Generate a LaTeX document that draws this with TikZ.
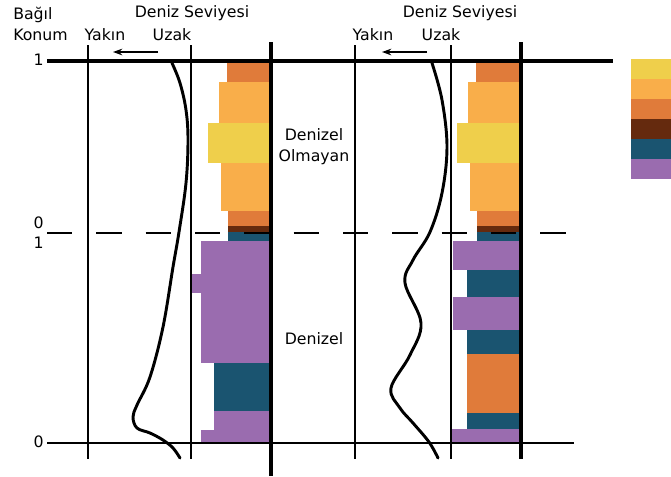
\documentclass[tikz,border=0pt]{standalone}
\usepackage{fontspec}
\usetikzlibrary{arrows.meta}
\setmainfont{DejaVu Sans}
\begin{document}
\begin{tikzpicture}[x=0.75pt,y=-0.75pt,
  lbl/.style={inner sep=0pt,anchor=base,font=\fontsize{11.8}{14}\selectfont},
  thinline/.style={line width=1pt},
  thickline/.style={line width=2.3pt},
  curve/.style={line width=2.2pt,line cap=round},
  arr/.style={line width=1.1pt,-{Stealth[length=7pt,width=5pt]}}]
\definecolor{cyel}{HTML}{EFCF4B}
\definecolor{clor}{HTML}{F9AE4A}
\definecolor{cdor}{HTML}{E07B3A}
\definecolor{cbr}{HTML}{652A0E}
\definecolor{cte}{HTML}{1A5470}
\definecolor{cpu}{HTML}{9A6CAF}
\useasboundingbox (0,0) rectangle (671,476);
% ---- left column bars
\fill[cdor] (227,62) rectangle (271,82);
\fill[clor] (219,82) rectangle (271,123);
\fill[cyel] (208,123) rectangle (271,163);
\fill[clor] (221,163) rectangle (271,211);
\fill[cdor] (228,211) rectangle (271,226);
\fill[cbr] (228,226) rectangle (271,232);
\fill[cte] (228,232) rectangle (271,241);
\fill[cpu] (201,241) rectangle (271,363);
\fill[cpu] (191,274) rectangle (201,293);
\fill[cte] (214,363) rectangle (271,411);
\fill[cpu] (214,411) rectangle (271,430);
\fill[cpu] (201,430) rectangle (271,443);
% ---- right column bars
\fill[cdor] (476,62) rectangle (521,82);
\fill[clor] (468,82) rectangle (521,123);
\fill[cyel] (457,123) rectangle (521,163);
\fill[clor] (470,163) rectangle (521,211);
\fill[cdor] (477,211) rectangle (521,226);
\fill[cbr] (477,226) rectangle (521,232);
\fill[cte] (477,232) rectangle (521,241);
\fill[cpu] (453,241) rectangle (521,270);
\fill[cte] (467,270) rectangle (521,297);
\fill[cpu] (453,297) rectangle (521,330);
\fill[cte] (467,330) rectangle (521,354);
\fill[cdor] (467,354) rectangle (521,413);
\fill[cte] (467,413) rectangle (521,429);
\fill[cpu] (452,429) rectangle (521,443);
% ---- legend
\fill[cyel] (631,59) rectangle (671,79);
\fill[clor] (631,79) rectangle (671,99);
\fill[cdor] (631,99) rectangle (671,119);
\fill[cbr] (631,119) rectangle (671,139);
\fill[cte] (631,139) rectangle (671,159);
\fill[cpu] (631,159) rectangle (671,179);
% ---- coordinates
\coordinate (tl) at (47,61); \coordinate (tr) at (613,61);
\coordinate (dl) at (47,233); \coordinate (dr) at (572,233);
\coordinate (bl) at (47,443); \coordinate (br) at (574,443);
\coordinate (v1t) at (88,45); \coordinate (v1b) at (88,459);
\coordinate (v2t) at (191,45); \coordinate (v2b) at (191,459);
\coordinate (v3t) at (271,42); \coordinate (v3b) at (271,476);
\coordinate (v4t) at (355,45); \coordinate (v4b) at (355,459);
\coordinate (v5t) at (451,45); \coordinate (v5b) at (451,459);
\coordinate (v6t) at (521,42); \coordinate (v6b) at (521,459);
\coordinate (a1s) at (158,52); \coordinate (a1e) at (113,52);
\coordinate (a2s) at (427,52); \coordinate (a2e) at (382,52);
% ---- lines
\draw[thickline] (tl) -- (tr);
\draw[thinline,dash pattern=on 19 off 18] (dl) -- (dr);
\draw[thinline] (bl) -- (br);
\draw[thinline] (v1t) -- (v1b);
\draw[thinline] (v2t) -- (v2b);
\draw[thickline] (v3t) -- (v3b);
\draw[thinline] (v4t) -- (v4b);
\draw[thinline] (v5t) -- (v5b);
\draw[thickline] (v6t) -- (v6b);
\draw[arr] (a1s) -- (a1e);
\draw[arr] (a2s) -- (a2e);
% ---- curves
\draw[curve] plot[smooth,tension=0.6] coordinates {(172,63) (180,83) (186,110) (188,140) (186,183) (179,232) (173,267) (163,327) (150,377) (137,405) (133,417) (137,428) (150,433) (163,440) (173,448) (180,458)};
\draw[curve] plot[smooth,tension=0.6] coordinates {(432,63) (442,100) (447,147) (442,193) (430,232) (413,260) (405,283) (421,323) (410,355) (391,388) (400,408) (413,423) (429,442) (438,458)};
% ---- texts
\node[lbl,anchor=base west] (bagil) at (13,19) {Bağıl};
\node[lbl,anchor=base west] (konum) at (13,40) {Konum};
\node[lbl] (ds1) at (192,17) {Deniz Seviyesi};
\node[lbl] (ds2) at (460,17) {Deniz Seviyesi};
\node[lbl] (yk1) at (105,40) {Yakın};
\node[lbl] (uz1) at (172,40) {Uzak};
\node[lbl] (yk2) at (373,40) {Yakın};
\node[lbl] (uz2) at (441,40) {Uzak};
\node[lbl,anchor=base east] (n1a) at (44,65) {1};
\node[lbl,anchor=base east] (n0a) at (44,228) {0};
\node[lbl,anchor=base east] (n1b) at (44,248) {1};
\node[lbl,anchor=base east] (n0b) at (44,447) {0};
\node[lbl] (dz1) at (314,140) {Denizel};
\node[lbl] (olm) at (314,161) {Olmayan};
\node[lbl] (dz2) at (314,344) {Denizel};
\end{tikzpicture}
\end{document}
